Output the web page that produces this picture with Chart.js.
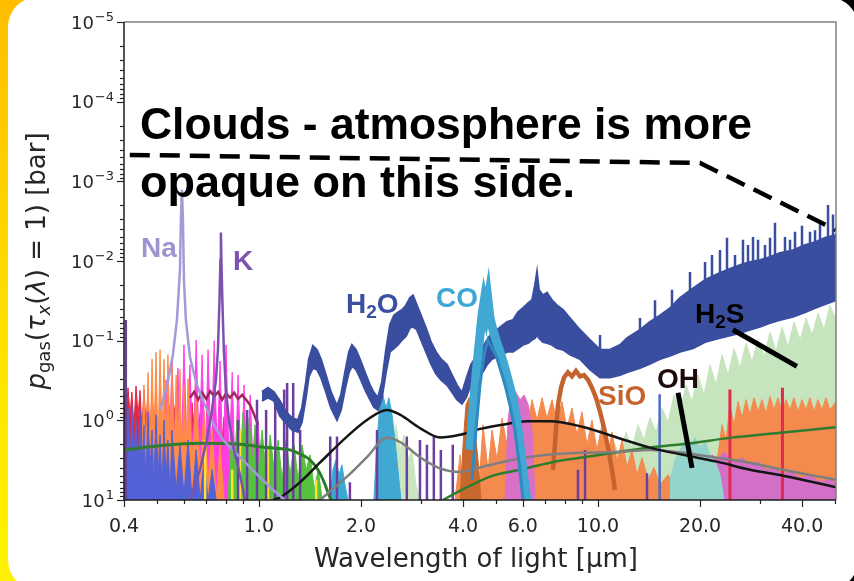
<!DOCTYPE html>
<html><head><meta charset="utf-8">
<script src="https://cdn.jsdelivr.net/npm/chart.js@4.4.1/dist/chart.umd.min.js"></script>
<style>
html,body{margin:0;padding:0;}
body{width:854px;height:581px;overflow:hidden;position:relative;background:#000;}
#strip{position:absolute;left:0;top:0;width:440px;height:581px;background:linear-gradient(180deg,#FFBE00 0%,#FFD200 35%,#FFE800 70%,#FFF200 100%);}
#panel{position:absolute;left:8px;top:-3px;width:850px;height:593px;background:#fff;border-radius:30px;}
canvas{position:absolute;left:0;top:0;width:854px;height:581px;}
</style></head>
<body><div id="strip"></div><div id="panel"></div><canvas id="c" width="854" height="581"></canvas>
<script>
// ---------- axis ticks ----------
const xMajorTicks = [0.4, 1, 2, 4, 6, 10, 20, 40];
const xTickLabels = ['0.4', '1.0', '2.0', '4.0', '6.0', '10.0', '20.0', '40.0'];
const xMinorTicks = [0.5, 0.6, 0.7, 0.8, 0.9, 3, 5, 7, 8, 9, 30, 50];
const yExponents = [-5, -4, -3, -2, -1, 0, 1];

// ---------- spectra (wavelength in µm, pressure in bar) ----------
// left-side optical absorbers
const redWave = [0.400,0.405,0.411,0.417,0.422,0.428,0.434,0.440,0.446,0.452,0.458,0.464,0.471,0.477,0.484,0.490,0.497,0.504,0.511,0.518,0.525,0.532,0.539,0.554,0.570,0.585,0.601,0.618,0.635,0.653,0.671,0.689,0.708,0.728,0.748,0.768,0.789,0.811,0.834,0.857,0.880,0.904];
const redP = [0.48,0.95,0.39,0.85,0.44,1.2,0.37,0.9,0.42,1.3,0.41,1.1,0.45,1.5,0.44,1.2,0.5,1.8,0.52,1.6,0.6,2.2,0.55,1.2,0.55,2.5,0.7,3.0,0.6,2.7,0.8,3.5,0.9,4.0,1.1,3.6,0.9,4.5,1.3,5.0,1.8,10];
const blueWave = [0.400,0.405,0.411,0.417,0.422,0.428,0.434,0.440,0.446,0.452,0.458,0.464,0.471,0.477,0.484,0.490,0.497,0.504,0.511,0.518,0.525,0.532,0.539,0.547,0.554,0.570,0.585,0.601,0.618,0.635,0.653,0.671,0.689,0.708,0.728,0.748];
const blueP = [0.85,3.13,0.70,4.18,0.64,2.71,0.99,4.83,0.74,3.62,1.14,5.58,0.78,4.18,1.32,6.45,0.85,4.83,1.52,7.45,0.99,5.58,1.76,8.61,1.32,7.45,2.03,8.61,1.76,10,2.35,10,3.13,10,4.18,10];
const orangeLeftWave = [0.446,0.452,0.458,0.464,0.471,0.477,0.484,0.490,0.497,0.504,0.511,0.518,0.525,0.532,0.539,0.547,0.554,0.562,0.570,0.577,0.585,0.593,0.601,0.610,0.618,0.635,0.653,0.671,0.689,0.708,0.728,0.748,0.768,0.789,0.811];
const orangeLeftP = [10,2.35,0.36,3.13,0.25,2.71,0.17,2.03,0.14,2.35,0.13,1.76,0.17,2.71,0.15,2.03,0.20,3.13,0.27,2.35,0.23,3.62,0.36,2.71,0.30,3.13,0.48,4.18,0.74,5.58,1.32,10,2.03,10,10];
const magentaWave = [0.525,0.532,0.543,0.554,0.566,0.577,0.589,0.601,0.614,0.626,0.640,0.653,0.666,0.680,0.694,0.708,0.723,0.738,0.753,0.768,0.784,0.800,0.817,0.834,0.851,0.868,0.886,0.904,0.923,0.942,0.968,0.994,1.022];
const magentaP = [10,0.31,4.18,0.17,3.13,0.22,4.83,0.113,2.71,0.20,3.62,0.098,2.35,0.15,4.18,0.13,3.13,0.10,2.71,0.18,4.83,0.113,3.62,0.25,5.58,0.27,4.83,0.36,6.45,0.48,7.45,0.99,10];
const greenLeftWave = [0.811,0.828,0.845,0.862,0.880,0.898,0.916,0.936,0.955,0.974,0.994,1.022,1.050,1.079,1.109,1.139,1.171,1.203,1.236,1.270,1.305,1.341,1.378,1.416,1.455,1.495,1.537];
const greenLeftP = [10,1.76,4.18,0.99,3.13,0.78,2.71,0.92,3.62,1.14,4.18,1.32,4.83,1.52,4.18,1.76,5.58,1.76,4.83,2.03,5.58,2.03,4.18,2.71,7.45,4.18,10];
const maroonWave = [0.626,0.644,0.662,0.680,0.699,0.718,0.738,0.758,0.779,0.800,0.822,0.845,0.868,0.892,0.916,0.942,0.968,0.994];
const maroonP = [0.52,0.44,0.55,0.45,0.54,0.43,0.50,0.44,0.55,0.46,0.52,0.45,0.54,0.48,0.55,0.64,0.85,1.14];
const yellowSpikeWave = [0.694,0.834,0.880,1.063,1.475];
const yellowSpikeP = [1.76,4.18,1.32,2.35,5.58];
const purpleSpikeWave = [0.405,0.868,0.923,0.987,1.050,1.117,1.187,1.211,1.262,1.323,1.623,1.699,1.855,2.23,2.73,2.985,3.13,3.28,3.44,3.73,8.73,9.16,13.95];
const purpleSpikeP = [0.055,0.99,0.74,0.55,0.74,0.48,0.41,0.34,0.34,1.32,1.6,1.6,6.0,1.32,1.6,1.76,2.03,1.6,2.35,2.03,4.18,2.35,4.6];
const redSpikeWave = [24.5, 35.0];
const redSpikeP = [0.41, 0.39];
const blueSpikeWave = [15.2];
const blueSpikeP = [0.47];
const naWave = [0.511,0.535,0.5576,0.573,0.585,0.5886,0.5928,0.5968,0.601,0.609,0.626,0.656,0.693,0.732,0.783,0.838,0.941,1.100,1.193];
const naP = [0.74,0.38,0.15,0.055,0.0129,0.0030,0.00128,0.0030,0.0173,0.055,0.16,0.36,0.64,1.08,1.76,2.35,3.9,7.45,10];
const kWave = [0.626,0.670,0.702,0.727,0.747,0.757,0.765,0.770,0.7725,0.775,0.780,0.788,0.799,0.816,0.844,0.879,0.910];
const kP = [10,4.18,1.76,0.74,0.31,0.13,0.031,0.0097,0.0044,0.0097,0.031,0.13,0.41,0.99,2.35,4.83,10];

// infrared absorbers
const cyanWave = [1.62,1.653,1.687,1.722,1.757,1.794,1.83];
const cyanP = [10,4.18,3.13,4.83,3.62,6.45,10];
const co23Wave = [2.184,2.23,2.275,2.32,2.37,2.418,2.47,2.519,2.57,2.624];
const co23P = [10,1.76,0.64,0.48,0.70,0.52,0.85,1.76,4.18,10];
const paleSmallWave = [2.275,2.337,2.40,2.47,2.535,2.61,2.677,2.75,2.83,2.905,2.985];
const paleSmallP = [10,4.18,1.32,2.03,1.14,2.35,1.52,3.13,2.35,6.45,10];
const sio4Wave = [3.92,4.0,4.08,4.165,4.25,4.338,4.426,4.518];
const sio4P = [10,2.03,0.64,0.52,0.78,1.32,3.13,10];
const coWave = [4.193,4.28,4.367,4.457,4.549,4.611,4.674,4.737,4.802,4.90,5.00,5.14,5.28,5.43,5.577,5.73,5.888,6.05,6.17];
const coP = [2.35,0.74,0.27,0.113,0.048,0.033,0.044,0.031,0.052,0.073,0.098,0.138,0.20,0.31,0.48,0.85,2.03,5.58,10];
const coInnerWave = [4.25,4.367,4.487,4.611,4.737,4.868,5.00,5.14,5.318,5.50,5.69,5.888,6.01];
const coInnerP = [5.58,1.32,0.36,0.15,0.098,0.125,0.15,0.22,0.36,0.64,1.32,4.18,10];
const sioWave = [7.37,7.52,7.62,7.78,7.94,8.155,8.38,8.61,8.85,9.09,9.34,9.60,9.865,10.14,10.42,10.70,11.0,11.22];
const sioP = [4.18,1.32,0.64,0.39,0.29,0.25,0.28,0.24,0.28,0.27,0.31,0.39,0.52,0.78,1.25,2.2,4.18,7.45];
const orangeWave = [3.79,3.92,4.0,4.11,4.22,4.34,4.46,4.58,4.74,4.87,5.04,5.21,5.39,5.56,5.77,5.97,6.17,6.39,6.61,6.84,7.07,7.32,7.57,7.83,8.10,8.38,8.67,8.97,9.28,9.60,9.93,10.28,10.63,11.0,11.38,11.77,12.18,12.60,13.03,13.49,14.05,14.63,15.24,16.09,16.99,17.94,18.94,20.0,20.83,21.69,22.59,23.22,23.86,24.51,25.19,25.88,26.60,27.33,28.08,28.86,29.65,30.47,31.30,32.17,33.05,33.96,34.89,35.85,36.84,37.85,38.90,39.97,41.07,42.2,43.36,44.55,45.78,47.04,48.33,50.35];
const orangeP = [10,2.71,8.6,1.32,7.45,1.76,6.45,1.14,4.18,1.32,3.13,0.94,2.03,0.74,1.4,0.62,1.25,0.55,0.99,0.52,0.94,0.55,1.05,0.58,1.25,0.70,1.52,0.78,2.03,0.99,2.35,1.14,3.13,1.4,3.3,1.76,3.9,2.35,4.83,2.95,5.58,3.9,6.45,4.83,7.0,5.25,7.45,5.58,7.0,4.18,2.71,1.14,1.76,0.64,1.14,0.58,0.94,0.55,0.85,0.52,0.78,0.55,0.82,0.50,0.74,0.52,0.78,0.55,0.74,0.52,0.78,0.55,0.74,0.52,0.78,0.55,0.74,0.52,0.74,0.58];
const h2sWave = [5.89,6.09,6.30,6.52,6.74,6.98,7.22,7.47,7.73,8.05,8.38,8.73,9.09,9.47,9.86,10.28,10.70,11.15,11.61,12.09,12.60,13.12,13.67,14.23,14.83,15.45,16.09,16.76,17.45,18.18,18.94,19.72,20.55,21.40,22.28,23.22,24.19,25.19,26.24,27.33,28.47,29.65,30.89,32.17,33.50,34.89,36.35,37.86,39.46,41.07,42.80,44.56,46.42,48.33,50.35];
const h2sP = [10,2.71,4.18,1.76,3.62,1.52,3.13,1.4,2.71,1.76,3.3,2.03,3.62,2.2,3.9,2.35,3.62,1.87,2.95,1.4,2.2,1.14,1.76,0.92,1.4,0.70,1.05,0.48,0.78,0.36,0.58,0.27,0.48,0.20,0.36,0.15,0.27,0.125,0.22,0.107,0.185,0.095,0.16,0.078,0.137,0.068,0.12,0.058,0.098,0.052,0.085,0.045,0.073,0.036,0.055];
const pinkRightWave = [20.7,21.11,21.69,22.59,23.53,24.51,25.54,26.60,28.08,29.65,31.30,33.05,34.89,36.84,39.46,42.2,45.17,48.33,50.35];
const pinkRightP = [10,3.62,2.71,3.13,2.5,2.95,3.3,2.95,3.62,3.3,4.18,3.9,4.7,4.45,5.25,5.0,5.9,5.58,6.2];
const pinkLeftWave = [5.32,5.43,5.56,5.72,5.89,6.06,6.23,6.39,6.52];
const pinkLeftP = [10,0.99,0.48,0.44,0.55,0.48,0.64,1.32,10];
const ohWave = [16.31,16.9,17.45,18.06,18.68,19.33,20.0,20.7,21.4,22.15,22.9,23.56];
const ohP = [5.58,3.13,2.35,1.76,2.03,1.66,2.2,1.87,2.71,3.3,4.83,10];

// H2O band (upper and lower edge of the noisy curve)
const h2oWave = [1.021,1.063,1.107,1.153,1.201,1.251,1.303,1.339,1.376,1.404,1.443,1.483,1.524,1.576,1.631,1.699,1.746,1.794,1.843,1.881,1.933,1.986,2.055,2.126,2.184,2.244,2.306,2.370,2.435,2.502,2.571,2.642,2.715,2.789,2.847,2.925,3.006,3.109,3.216,3.327,3.442,3.585,3.709,3.837,3.970,4.080,4.221,4.367,4.518,4.706,4.868,5.036,5.210,5.390,5.615,5.808,6.009,6.216,6.388,6.519,6.609,6.699,6.884,7.073,7.317,7.569,7.884,8.267,8.849,9.472,10.14,10.85,11.61,12.18,13.30,14.24,15.24,16.31,17.46,19.07,20.69,22.44,24.02,26.24,28.08,30.06,32.17,34.43,37.61,40.80,43.67,46.73,50.35];
const h2oTop = [0.44,0.39,0.44,0.57,0.78,0.93,0.99,0.70,0.33,0.17,0.116,0.13,0.17,0.27,0.44,0.66,0.48,0.25,0.138,0.113,0.13,0.17,0.25,0.36,0.45,0.52,0.33,0.13,0.063,0.048,0.044,0.041,0.036,0.029,0.027,0.036,0.048,0.069,0.104,0.138,0.17,0.20,0.27,0.36,0.45,0.31,0.20,0.16,0.13,0.098,0.080,0.073,0.065,0.058,0.055,0.044,0.039,0.034,0.031,0.020,0.0137,0.023,0.027,0.025,0.031,0.036,0.041,0.052,0.073,0.098,0.13,0.13,0.113,0.093,0.073,0.058,0.048,0.039,0.029,0.022,0.0173,0.0146,0.0129,0.0112,0.0103,0.0097,0.0089,0.0079,0.0073,0.0063,0.0058,0.0051,0.0047];
const h2oBottom = [0.57,0.52,0.57,0.88,1.08,1.32,1.40,1.05,0.52,0.28,0.22,0.23,0.29,0.44,0.70,0.99,0.74,0.41,0.25,0.21,0.23,0.29,0.41,0.55,0.68,0.74,0.52,0.25,0.138,0.125,0.113,0.098,0.088,0.069,0.067,0.073,0.098,0.138,0.195,0.26,0.31,0.36,0.44,0.55,0.62,0.52,0.36,0.31,0.27,0.20,0.17,0.16,0.15,0.138,0.138,0.125,0.113,0.107,0.098,0.093,0.085,0.093,0.104,0.107,0.113,0.125,0.13,0.15,0.17,0.23,0.29,0.29,0.27,0.25,0.22,0.195,0.17,0.155,0.138,0.125,0.104,0.095,0.088,0.080,0.073,0.067,0.060,0.055,0.050,0.044,0.039,0.035,0.031];
const h2oSpikeWave = [10.14,13.30,14.73,16.53,18.68,20.69,21.69,22.9,24.02,25.36,26.77,27.7,28.66,29.65,31.09,32.17,33.27,35.61,36.84,38.12,39.97,42.2,43.67,45.17,47.7,49.34];
const h2oSpikeBase = [0.13,0.073,0.053,0.037,0.024,0.0173,0.0155,0.014,0.0129,0.0118,0.0109,0.0105,0.0100,0.0098,0.0093,0.0089,0.0085,0.0077,0.0075,0.0071,0.0066,0.0061,0.0058,0.0055,0.0050,0.0048];
const h2oSpikeTop = [0.085,0.052,0.031,0.023,0.0137,0.0103,0.0084,0.0073,0.0051,0.0084,0.0054,0.0063,0.0050,0.0054,0.0063,0.0051,0.0033,0.0050,0.0054,0.0043,0.0036,0.0043,0.0041,0.0033,0.00198,0.0026];

// smooth curves
const blackWave = [1.100,1.153,1.321,1.513,1.818,2.083,2.386,2.606,2.985,3.42,3.917,4.487,5.39,6.17,7.22,9.03,11.38,14.23,17.81,22.44,28.08,35.13,50.35];
const blackP = [10,9.3,6.0,3.4,1.6,0.99,0.74,0.85,1.25,1.64,1.52,1.28,1.11,1.03,1.03,1.21,1.64,2.2,2.71,3.3,4.18,4.95,6.9];
const grayWave = [1.513,1.545,1.818,2.083,2.386,2.606,2.985,3.42,3.917,4.487,5.615,7.07,8.85,11.38,14.23,17.81,22.44,28.08,35.13,50.35];
const grayP = [10,9.3,5.1,2.9,1.66,1.87,2.9,4.0,4.45,3.9,3.13,2.71,2.55,2.5,2.35,2.55,2.95,3.4,4.18,5.58];
const green1Wave = [0.400,0.511,0.671,0.880,1.056,1.234,1.321,1.414,1.493,1.555,1.620,1.642];
const green1P = [2.35,2.08,1.94,2.0,2.2,2.35,2.64,3.13,4.18,5.9,9.3,10];
const green2Wave = [3.49,4.11,4.90,5.89,7.22,8.85,10.14,14.23,18.68,24.51,35.13,50.35];
const green2P = [10,6.9,4.95,4.18,3.4,2.95,2.71,2.2,1.94,1.66,1.42,1.22];

// cloud level and pointer lines
const cloudWave = [0.416, 20.0, 50.35];
const cloudP = [4.66e-4, 5.88e-4, 4.07e-3];
const h2sPointerWave = [25.0, 38.6];
const h2sPointerP = [0.073, 0.21];
const ohPointerWave = [17.22, 18.94];
const ohPointerP = [0.45, 3.95];

// ---------- build datasets ----------
function pts(w, p) { return w.map((x, i) => ({x: x, y: p[i]})); }
function spikePts(w, top, base) {
  const out = [];
  w.forEach((x, i) => { out.push({x: x, y: base ? base[i] : 10}); out.push({x: x, y: top[i]}); out.push({x: x, y: null}); });
  return out;
}
const layers = [];
function area(w, p, color) {
  layers.push({data: pts(w, p), borderColor: color, backgroundColor: color, borderWidth: 1, fill: {value: 10}});
}
function line(w, p, color, width, extra) {
  layers.push(Object.assign({data: pts(w, p), borderColor: color, borderWidth: width, fill: false}, extra || {}));
}
function spikes(w, top, base, color, width) {
  layers.push({data: spikePts(w, top, base), borderColor: color, borderWidth: width, fill: false, spanGaps: false});
}
const smooth = {cubicInterpolationMode: 'monotone'};

// bottom -> top
area(h2sWave, h2sP, '#C6E4BD');
area(orangeWave, orangeP, '#F48A4E');
area(pinkLeftWave, pinkLeftP, '#D770C6');
area(pinkRightWave, pinkRightP, '#D26FC6');
area(ohWave, ohP, '#94D4CD');
area(paleSmallWave, paleSmallP, '#C9E6C1');
area(redWave, redP, '#E3263F');
area(magentaWave, magentaP, '#FF3FE3');
area(orangeLeftWave, orangeLeftP, '#FF8B46');
area(blueWave, blueP, '#5262D6');
area(greenLeftWave, greenLeftP, '#55C23F');
spikes(yellowSpikeWave, yellowSpikeP, null, '#FFE02E', 2.5);
line(maroonWave, maroonP, '#A0285E', 2.5);
area(cyanWave, cyanP, '#3AA9D3');
area(co23Wave, co23P, '#40A9D2');
area(sio4Wave, sio4P, '#C8682E');
spikes(purpleSpikeWave, purpleSpikeP, null, '#6C3F9F', 2.5);
spikes(redSpikeWave, redSpikeP, null, '#E02A4E', 3);
spikes(blueSpikeWave, blueSpikeP, null, '#4D6BC8', 2.5);
line(sioWave, sioP, '#C4632E', 4.5);
line(green1Wave, green1P, '#2E7D2E', 3, smooth);
line(green2Wave, green2P, '#2E7D2E', 2.5, smooth);
line(grayWave, grayP, '#7f7f7f', 2.5, smooth);
line(blackWave, blackP, '#151515', 2.5, smooth);
layers.push({data: pts(h2oWave, h2oTop), borderColor: '#3A4EA0', backgroundColor: '#3A4EA0', borderWidth: 2, fill: '+1'});
layers.push({data: pts(h2oWave, h2oBottom), borderColor: '#3A4EA0', borderWidth: 2, fill: false});
spikes(h2oSpikeWave, h2oSpikeTop, h2oSpikeBase, '#3A4EA0', 2.5);
line(coWave, coP, '#41A8D3', 9);
line(coInnerWave, coInnerP, '#2F8AC2', 3);
line(naWave, naP, '#A29BD6', 2.5);
line(kWave, kP, '#7B52AE', 2.5);
line(cloudWave, cloudP, '#000000', 4.5, {borderDash: [20, 10]});
line(h2sPointerWave, h2sPointerP, '#000000', 5);
line(ohPointerWave, ohPointerP, '#000000', 5);
layers.forEach((d, i) => { d.order = layers.length - i; d.pointRadius = 0; });

// ---------- drawing helpers ----------
function drawParts(ctx, parts, x, y) {
  parts.forEach(p => {
    ctx.font = p.f;
    ctx.fillText(p.t, x, y + (p.dy || 0));
    x += ctx.measureText(p.t).width;
  });
}
function partsWidth(ctx, parts) {
  let w = 0;
  parts.forEach(p => { ctx.font = p.f; w += ctx.measureText(p.t).width; });
  return w;
}

const axesPlugin = {
  id: 'axesPlugin',
  afterDraw(chart) {
    const ctx = chart.ctx, a = chart.chartArea, xs = chart.scales.x, ys = chart.scales.y;
    ctx.save();
    ctx.lineWidth = 1.5;
    ctx.strokeStyle = '#808080';
    ctx.beginPath(); ctx.moveTo(a.left, a.top); ctx.lineTo(a.right, a.top); ctx.lineTo(a.right, a.bottom); ctx.stroke();
    ctx.strokeStyle = '#1c1c1c';
    ctx.beginPath(); ctx.moveTo(a.left, a.top); ctx.lineTo(a.left, a.bottom); ctx.lineTo(a.right, a.bottom); ctx.stroke();
    ctx.lineWidth = 1.2;
    ctx.strokeStyle = '#262626';
    xMajorTicks.forEach(v => { const px = Math.round(xs.getPixelForValue(v)) + 0.5; ctx.beginPath(); ctx.moveTo(px, a.bottom); ctx.lineTo(px, a.bottom + 7); ctx.stroke(); });
    xMinorTicks.forEach(v => { const px = Math.round(xs.getPixelForValue(v)) + 0.5; if (px > a.right + 1) return; ctx.beginPath(); ctx.moveTo(px, a.bottom); ctx.lineTo(px, a.bottom + 4); ctx.stroke(); });
    yExponents.forEach(e => {
      const py = Math.round(ys.getPixelForValue(Math.pow(10, e))) + 0.5;
      ctx.beginPath(); ctx.moveTo(a.left - 7, py); ctx.lineTo(a.left, py); ctx.stroke();
      if (e < 1) {
        for (let m = 2; m <= 9; m++) {
          const pm = Math.round(ys.getPixelForValue(m * Math.pow(10, e))) + 0.5;
          ctx.beginPath(); ctx.moveTo(a.left - 4, pm); ctx.lineTo(a.left, pm); ctx.stroke();
        }
      }
    });
    ctx.fillStyle = '#262626';
    ctx.textAlign = 'center';
    ctx.textBaseline = 'alphabetic';
    ctx.font = '19px "DejaVu Sans"';
    xMajorTicks.forEach((v, i) => ctx.fillText(xTickLabels[i], xs.getPixelForValue(v), 532));
    ctx.textAlign = 'left';
    yExponents.forEach(e => {
      const py = ys.getPixelForValue(Math.pow(10, e));
      const sup = (e < 0 ? '\u2212' : '') + Math.abs(e);
      ctx.font = '13px "DejaVu Sans"';
      const sw = ctx.measureText(sup).width;
      ctx.font = '18px "DejaVu Sans"';
      const bw = ctx.measureText('10').width;
      const xr = 114;
      ctx.fillText('10', xr - sw - bw - 1, py + 6.5);
      ctx.font = '13px "DejaVu Sans"';
      ctx.fillText(sup, xr - sw, py - 1);
    });
    ctx.textAlign = 'center';
    ctx.font = '26px "DejaVu Sans"';
    ctx.fillText('Wavelength of light [\u00b5m]', 476, 567);
    ctx.save();
    ctx.translate(45, 261);
    ctx.rotate(-Math.PI / 2);
    ctx.textAlign = 'left';
    const yt = [
      {t: 'p', f: 'italic 26px "DejaVu Sans"'},
      {t: 'gas', f: '18px "DejaVu Sans"', dy: 5},
      {t: '(', f: '26px "DejaVu Sans"'},
      {t: '\u03c4', f: 'italic 26px "DejaVu Sans"'},
      {t: 'x', f: 'italic 18px "DejaVu Sans"', dy: 5},
      {t: '(', f: '26px "DejaVu Sans"'},
      {t: '\u03bb', f: 'italic 26px "DejaVu Sans"'},
      {t: ') = 1) [bar]', f: '26px "DejaVu Sans"'}
    ];
    const tw = partsWidth(ctx, yt);
    drawParts(ctx, yt, -tw / 2, 0);
    ctx.restore();
    ctx.restore();
  }
};

const textPlugin = {
  id: 'textPlugin',
  afterDatasetsDraw(chart) {
    const ctx = chart.ctx;
    ctx.save();
    ctx.textAlign = 'left';
    ctx.textBaseline = 'alphabetic';
    ctx.fillStyle = '#000';
    ctx.font = 'bold 45px "Liberation Sans", Arial, sans-serif';
    ctx.fillText('Clouds - atmosphere is more', 140, 139, 612);
    ctx.fillText('opaque on this side.', 140, 197);
    const F = 'bold 28px "Liberation Sans", Arial, sans-serif';
    const S = 'bold 19px "Liberation Sans", Arial, sans-serif';
    ctx.fillStyle = '#9D95D0'; drawParts(ctx, [{t: 'Na', f: F}], 141, 257);
    ctx.fillStyle = '#7C54B0'; drawParts(ctx, [{t: 'K', f: F}], 233, 270);
    ctx.fillStyle = '#3B4FA0'; drawParts(ctx, [{t: 'H', f: F}, {t: '2', f: S, dy: 5}, {t: 'O', f: F}], 346, 313);
    ctx.fillStyle = '#3EA7D3'; drawParts(ctx, [{t: 'CO', f: F}], 436, 307);
    ctx.fillStyle = '#C4652F'; drawParts(ctx, [{t: 'SiO', f: F}], 598, 405);
    ctx.fillStyle = '#1E0A0A'; drawParts(ctx, [{t: 'OH', f: F}], 657, 388);
    ctx.fillStyle = '#000000'; drawParts(ctx, [{t: 'H', f: F}, {t: '2', f: S, dy: 5}, {t: 'S', f: F}], 695, 323);
    ctx.restore();
  }
};

new Chart(document.getElementById('c'), {
  type: 'line',
  data: {datasets: layers},
  options: {
    responsive: false,
    animation: false,
    devicePixelRatio: 1,
    layout: {padding: {left: 124, right: 18, top: 22, bottom: 81}},
    scales: {
      x: {type: 'logarithmic', min: 0.4, max: 50.35, display: false},
      y: {type: 'logarithmic', min: 1e-5, max: 10, reverse: true, display: false}
    },
    plugins: {legend: {display: false}, tooltip: {enabled: false}},
    elements: {point: {radius: 0}, line: {tension: 0}}
  },
  plugins: [textPlugin, axesPlugin]
});
</script>
</body></html>
